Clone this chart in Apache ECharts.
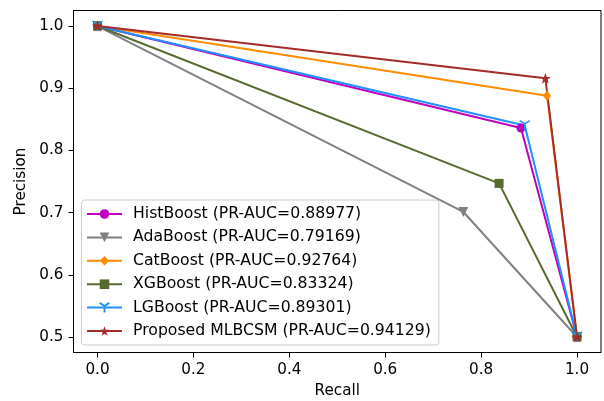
<!DOCTYPE html>
<html>
<head>
<meta charset="utf-8">
<script src="https://cdn.jsdelivr.net/npm/echarts@6/dist/echarts.min.js"></script>
<style>
  html, body { margin: 0; padding: 0; background: #fff; }
  #chart { width: 604px; height: 401px; }
</style>
</head>
<body>
<div id="chart"></div>
<script>
// models and their curve points (recall, precision)
const models = ["HistBoost", "AdaBoost", "CatBoost", "XGBoost", "LGBoost", "Proposed MLBCSM"];
const prAuc = ["0.88977", "0.79169", "0.92764", "0.83324", "0.89301", "0.94129"];
const recallHist = [0, 0.883, 1];
const precisionHist = [1, 0.836, 0.5];
const recallAda = [0, 0.763, 1];
const precisionAda = [1, 0.701, 0.5];
const recallCat = [0, 0.9375, 1];
const precisionCat = [1, 0.888, 0.5];
const recallXgb = [0, 0.8375, 1];
const precisionXgb = [1, 0.747, 0.5];
const recallLgb = [0, 0.891, 1];
const precisionLgb = [1, 0.840, 0.5];
const recallProp = [0, 0.934, 1];
const precisionProp = [1, 0.916, 0.5];
const xTicks = [0, 0.2, 0.4, 0.6, 0.8, 1.0];
const yTicks = [0.5, 0.6, 0.7, 0.8, 0.9, 1.0];

const colors = ["#bf00bf", "#808080", "#ff8c00", "#556b2f", "#1e90ff", "#a52a2a"];
const starPath = "path://M0,-10 L2.35,-3.24 L9.51,-3.09 L3.8,1.24 L5.88,8.09 L0,4 L-5.88,8.09 L-3.8,1.24 L-9.51,-3.09 L-2.35,-3.24 Z";
const triPath = "path://M0,0 L0,10 M0,0 L-8.66,-5 M0,0 L8.66,-5";
const symbols = ["circle", "triangle", "diamond", "rect", triPath, starPath];
const symSizes = [9, 10, [8, 11], 9, 10, 11];
const symRotate = [0, 180, 0, 0, 0, 0];

const curves = [
  [recallHist, precisionHist],
  [recallAda, precisionAda],
  [recallCat, precisionCat],
  [recallXgb, precisionXgb],
  [recallLgb, precisionLgb],
  [recallProp, precisionProp]
];

const font = "DejaVu Sans";
const chart = echarts.init(document.getElementById("chart"));

const series = models.map(function (m, i) {
  const pts = curves[i][0].map(function (r, j) { return [r, curves[i][1][j]]; });
  return {
    name: m + " (PR-AUC=" + prAuc[i] + ")",
    type: "line",
    data: pts,
    symbol: symbols[i],
    symbolSize: symSizes[i],
    symbolRotate: symRotate[i],
    showAllSymbol: true,
    color: colors[i],
    lineStyle: { width: 2, color: colors[i] },
    itemStyle: {
      color: colors[i],
      borderColor: colors[i],
      borderWidth: i === 4 ? 1.5 : 0
    },
    emphasis: { disabled: true },
    animation: false
  };
});

chart.setOption({
  animation: false,
  grid: {
    left: 73.5,
    right: 3,
    top: 10.5,
    bottom: 48.5,
    containLabel: false,
    outerBoundsMode: "none",
    show: true,
    borderColor: "#000",
    borderWidth: 1
  },
  legend: {
    orient: "vertical",
    left: 81.5,
    top: 200,
    padding: [6, 8, 6, 4.5],
    itemWidth: 35,
    itemHeight: 12,
    itemGap: 7.4,
    backgroundColor: "rgba(255,255,255,0.8)",
    borderColor: "#cccccc",
    borderWidth: 1,
    borderRadius: 3,
    textStyle: {
      fontFamily: font, fontSize: 15.7, color: "#000",
      lineHeight: 16, padding: [0, 0, 0, 6]
    },
    data: series.map(function (s) { return s.name; })
  },
  xAxis: {
    type: "value",
    min: -0.05,
    max: 1.05,
    name: "Recall",
    nameLocation: "middle",
    nameGap: 31,
    nameTextStyle: { fontFamily: font, fontSize: 15.2, color: "#000" },
    splitLine: { show: false },
    axisLine: { show: true, onZero: false, lineStyle: { color: "#000" } },
    axisTick: { show: true, length: 5, lineStyle: { color: "#000" }, customValues: xTicks },
    axisLabel: {
      fontFamily: font, fontSize: 15.2, color: "#000", margin: 10,
      customValues: xTicks,
      formatter: function (v) { return v.toFixed(1); }
    }
  },
  yAxis: {
    type: "value",
    min: 0.475,
    max: 1.025,
    name: "Precision",
    nameLocation: "middle",
    nameGap: 43,
    nameTextStyle: { fontFamily: font, fontSize: 15.2, color: "#000" },
    splitLine: { show: false },
    axisLine: { show: true, onZero: false, lineStyle: { color: "#000" } },
    axisTick: { show: true, length: 5, lineStyle: { color: "#000" }, customValues: yTicks },
    axisLabel: {
      fontFamily: font, fontSize: 15.2, color: "#000", margin: 10,
      customValues: yTicks,
      formatter: function (v) { return v.toFixed(1); }
    }
  },
  series: series
});
</script>
</body>
</html>
